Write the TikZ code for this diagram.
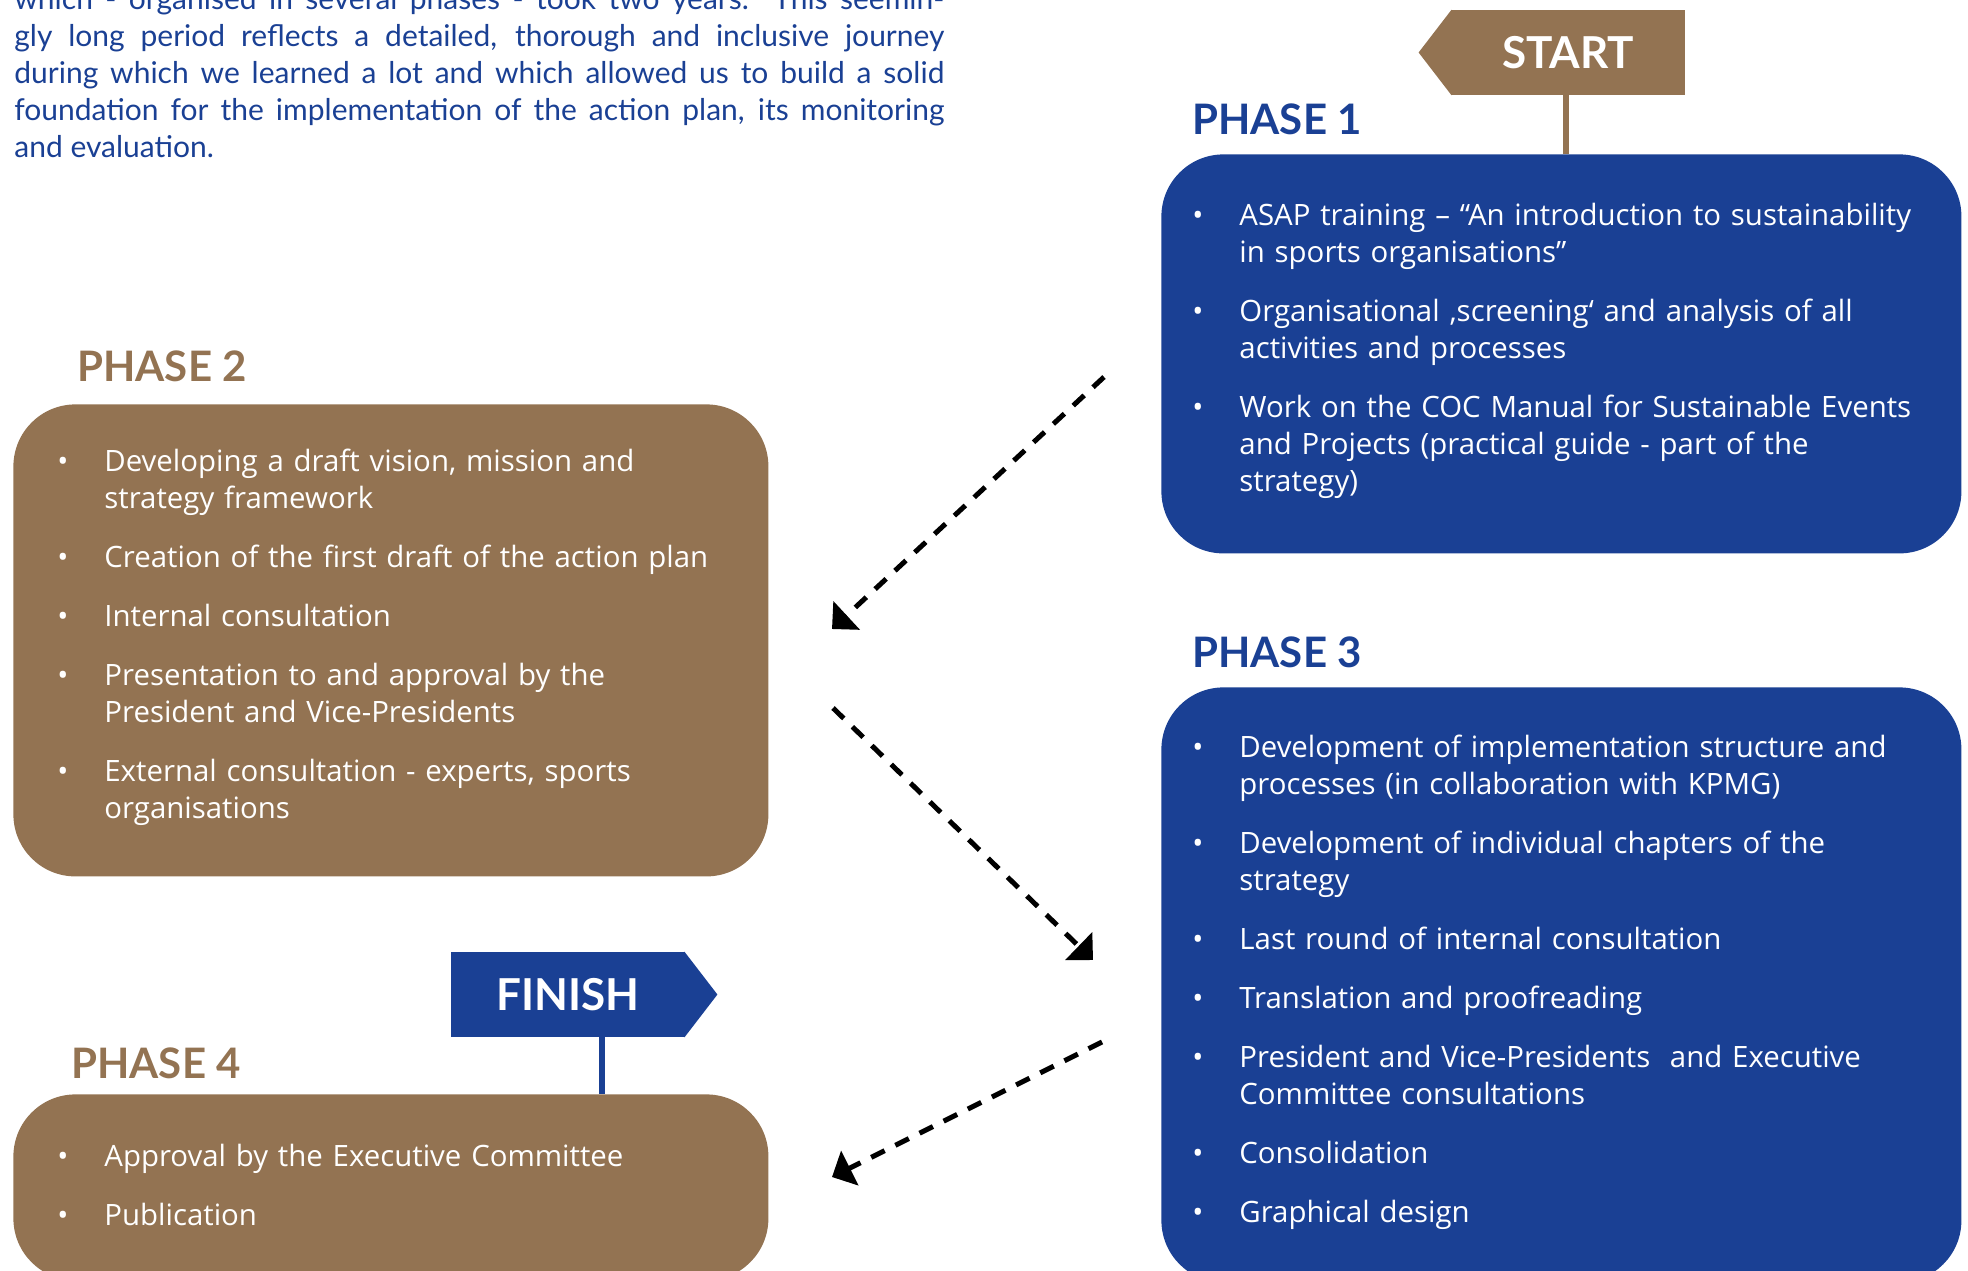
\documentclass[tikz,border=0pt]{standalone}
\usepackage{fontspec}
\setmainfont{Lato}
\newfontfamily\boxfont{Open Sans}
\usepackage{enumitem}
\usetikzlibrary{arrows.meta,positioning}

\definecolor{phaseblue}{RGB}{26,64,148}
\definecolor{phasebrown}{RGB}{147,115,82}

\setlist[itemize]{label=\textbullet, leftmargin=23.5pt, rightmargin=-40pt, labelwidth=23.5pt, labelsep=0pt, align=left, itemsep=11pt, parsep=0pt, topsep=0pt, partopsep=0pt}

% pushes the list up inside its box
\newcommand{\liftlist}{\par\nointerlineskip\vbox to 10pt{}}

\tikzset{
  phasebox/.style={rounded corners=31pt, anchor=north west, text=white, align=left, inner ysep=0pt, font=\boxfont\fontsize{14.7}{18.5}\selectfont},
  phasehead/.style={anchor=base west, inner sep=0pt, font=\fontsize{21}{24}\selectfont\bfseries},
  signbox/.style={minimum width=117pt, minimum height=42.5pt, inner sep=0pt, text=white, font=\fontsize{22}{26}\selectfont\bfseries},
  flowarrow/.style={-{Triangle[length=10pt,width=19pt]}, line width=2.5pt, dash pattern=on 7.5pt off 6pt}
}

\begin{document}
\begin{tikzpicture}[x=0.5pt, y=-0.5pt]

        \useasboundingbox (0,0) rectangle (1968,1270);

        % Intro paragraph (cut off at the top)
        \node[anchor=base west, inner sep=0pt, text width=465pt, align=justify, text=phaseblue,
              font=\fontsize{15}{18.5}\selectfont] (intro) at (14,9)
        {which - organised in several phases - took two years. This seemin-\linebreak
         gly long period reflects a detailed, thorough and inclusive journey\linebreak
         during which we learned a lot and which allowed us to build a solid\linebreak
         foundation for the implementation of the action plan, its monitoring\linebreak
         and evaluation.};

        % Phase boxes
        \node[phasebox, fill=phaseblue, inner xsep=15.5pt, text width=369pt, minimum height=199.5pt] (p1) at (1161,154)
        {\begin{itemize}
          \item ASAP training – “An introduction to sustainability\\ in sports organisations”
          \item Organisational ‚screening‘ and analysis of all\\ activities and processes
          \item Work on the COC Manual for Sustainable Events\\ and Projects (practical guide - part of the\\ strategy)
         \end{itemize}\liftlist};

        \node[phasebox, fill=phasebrown, inner xsep=22pt, text width=333.5pt, minimum height=236pt] (p2) at (13,404)
        {\begin{itemize}
          \item Developing a draft vision, mission and\\ strategy framework
          \item Creation of the first draft of the action plan
          \item Internal consultation
          \item Presentation to and approval by the\\ President and Vice-Presidents
          \item External consultation - experts, sports\\ organisations
         \end{itemize}\liftlist};

        \node[phasebox, fill=phaseblue, inner xsep=15.5pt, text width=369pt, minimum height=297.5pt] (p3) at (1161,687)
        {\begin{itemize}
          \item Development of implementation structure and\\ processes (in collaboration with KPMG)
          \item Development of individual chapters of the\\ strategy
          \item Last round of internal consultation
          \item Translation and proofreading
          \item President and Vice-Presidents\ \ and Executive\\ Committee consultations
          \item Consolidation
          \item Graphical design
         \end{itemize}\liftlist};

        \node[phasebox, fill=phasebrown, inner xsep=22pt, text width=333.5pt, minimum height=93pt] (p4) at (13,1094)
        {\begin{itemize}
          \item Approval by the Executive Committee
          \item Publication
         \end{itemize}\liftlist};

        % Phase headings
        \node[phasehead, text=phaseblue] (h1) at (1192,134) {PHASE 1};
        \node[phasehead, text=phasebrown] (h2) at (77,381) {PHASE 2};
        \node[phasehead, text=phaseblue] (h3) at (1192,667) {PHASE 3};
        \node[phasehead, text=phasebrown] (h4) at (71,1078) {PHASE 4};

        % Start sign with post
        \node[signbox, fill=phasebrown] (start) at (1568,52.5) {START};
        \fill[phasebrown] ([xshift=0.5pt]start.north west) -- ([xshift=-16pt]start.west) -- ([xshift=0.5pt]start.south west) -- cycle;
        \draw[phasebrown, line width=3pt] ([xshift=-1pt]start.south) -- ([xshift=-1pt]start.south |- p1.north);

        % Finish sign with post
        \node[signbox, fill=phaseblue] (finish) at (568,994.5) {FINISH};
        \fill[phaseblue] ([xshift=-0.5pt]finish.north east) -- ([xshift=16pt]finish.east) -- ([xshift=-0.5pt]finish.south east) -- cycle;
        \draw[phaseblue, line width=3pt] ([xshift=17pt]finish.south) -- ([xshift=17pt]finish.south |- p4.north);

        % Dashed arrows between the phases
        \coordinate (a1from) at (1104,377);
        \coordinate (a1to) at (832,629);
        \coordinate (a2from) at (833,708);
        \coordinate (a2to) at (1093,960);
        \coordinate (a3from) at (1102,1042);
        \coordinate (a3to) at (832,1177);
        \draw[flowarrow] (a1from) -- (a1to);
        \draw[flowarrow] (a2from) -- (a2to);
        \draw[flowarrow] (a3from) -- (a3to);

    \end{tikzpicture}
\end{document}
